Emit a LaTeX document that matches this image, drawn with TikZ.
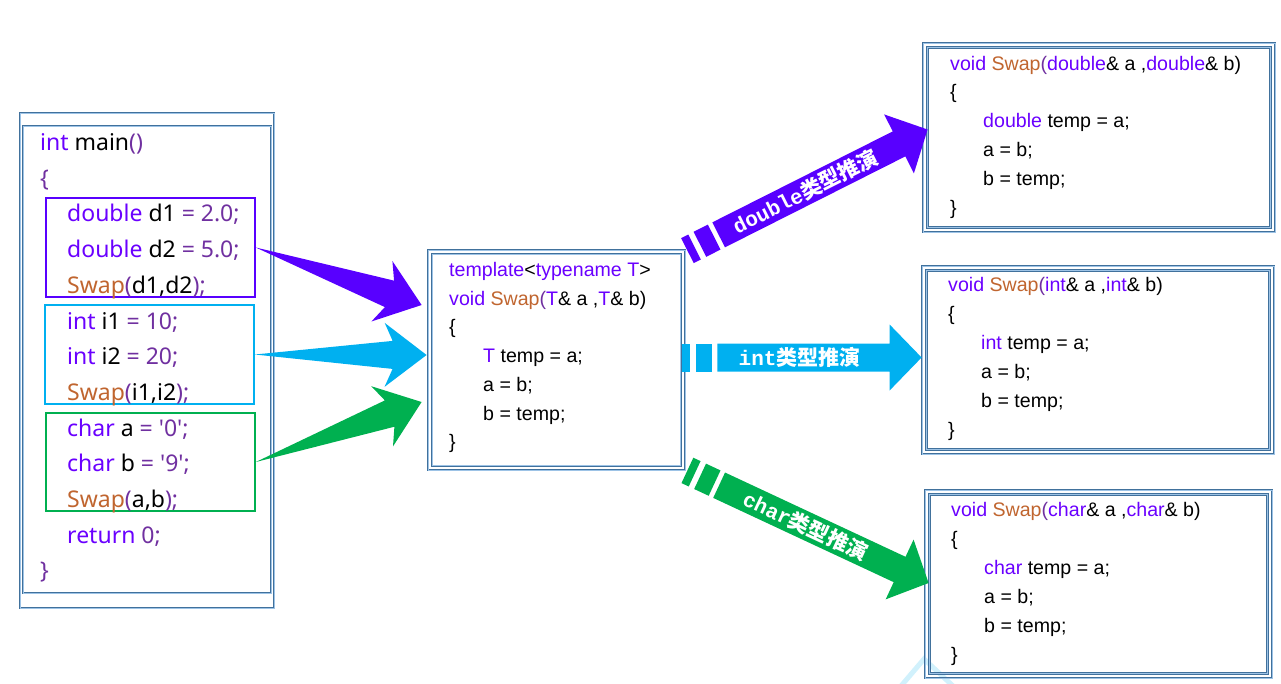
\documentclass[tikz,border=0pt]{standalone}
\usepackage{fontspec}
\setmainfont{Liberation Sans}
\newfontfamily\yahei{Noto Sans}
\newfontfamily\cjk{Noto Sans CJK SC}
\newfontfamily\lblmono{Liberation Mono}
\usetikzlibrary{calc,positioning}

\definecolor{kwc}{HTML}{6A00FF}
\definecolor{opc}{HTML}{7030A0}
\definecolor{fnc}{HTML}{C0652F}
\definecolor{boxblue}{HTML}{41719C}
\definecolor{boxlight}{HTML}{9DC3E6}
\definecolor{dblc}{HTML}{5800FF}
\definecolor{intc}{HTML}{00B0F0}
\definecolor{chrc}{HTML}{00B050}

\newcommand\kw[1]{\textcolor{kwc}{#1}}
\newcommand\op[1]{\textcolor{opc}{#1}}
\newcommand\fn[1]{\textcolor{fnc}{#1}}

% tapered arrow: colour, tail, tip
\newcommand\fatarrow[3]{%
  \fill[#1] (#2) -- ($(#3)!34pt!(#2)!14pt!90:(#3)$) -- ($(#3)!42pt!(#2)!32pt!90:(#3)$) -- (#3)
    -- ($(#3)!42pt!(#2)!32pt!-90:(#3)$) -- ($(#3)!34pt!(#2)!14pt!-90:(#3)$) -- cycle;}

% striped block arrow: colour, tail, tip, label
\newcommand\typearrow[4]{%
  \fill[#1] ($(#2)!14pt!90:(#3)$) -- ($(#2)!8pt!(#3)!14pt!90:(#3)$)
    -- ($(#2)!8pt!(#3)!14pt!-90:(#3)$) -- ($(#2)!14pt!-90:(#3)$) -- cycle;
  \fill[#1] ($(#2)!14pt!(#3)!14pt!90:(#3)$) -- ($(#2)!30pt!(#3)!14pt!90:(#3)$)
    -- ($(#2)!30pt!(#3)!14pt!-90:(#3)$) -- ($(#2)!14pt!(#3)!14pt!-90:(#3)$) -- cycle;
  \fill[#1] ($(#2)!35pt!(#3)!14pt!90:(#3)$) -- ($(#3)!32pt!(#2)!14pt!90:(#3)$)
    -- ($(#3)!32pt!(#2)!33pt!90:(#3)$) -- (#3) -- ($(#3)!32pt!(#2)!33pt!-90:(#3)$)
    -- ($(#3)!32pt!(#2)!14pt!-90:(#3)$) -- ($(#2)!35pt!(#3)!14pt!-90:(#3)$) -- cycle;
  \path (#2) -- (#3) node[lbl, sloped, pos=0.49] {#4};}

\begin{document}
\begin{tikzpicture}[x=1pt, y=-1pt,
    bline/.style={draw=boxblue, double=boxlight, line width=0.8pt, double distance=1pt},
    codebox/.style={bline, rectangle, inner sep=0pt},
    groupbox/.style={draw=#1, line width=1.6pt, rectangle, inner sep=0pt,
      minimum width=209pt, minimum height=99pt},
    mline/.style={anchor=base west, inner sep=0pt, font=\yahei\fontsize{23}{27}\selectfont},
    cline/.style={anchor=base west, inner sep=0pt, font=\fontsize{19.6}{24}\selectfont},
    lbl/.style={text=white, inner sep=0pt, font=\bfseries\fontsize{21}{25}\selectfont}]
\useasboundingbox (0,0) rectangle (1281,683);

% faint piece at the bottom
\draw[intc!18, line width=5pt] (901,686) -- (924,659) -- (953,686);

% main()
\node[codebox, minimum width=254pt, minimum height=495pt] (mainout) at (147,360.5) {};
\node[codebox, minimum width=248pt, minimum height=467pt] (mainin) at (147,359.5) {};
\node[groupbox=dblc] (gdbl) at (150.5,247.5) {};
\node[groupbox=intc] (gint) at (149.5,354.5) {};
\node[groupbox=chrc, minimum height=98pt] (gchr) at (150.5,462) {};
\foreach \k/\ind/\txt in {0/40/{\kw{int} main\op{()}}, 1/40/{\op{\{}},
    2/67/{\kw{double} d1 \op{= 2.0;}}, 3/67/{\kw{double} d2 \op{= 5.0;}},
    4/67/{\fn{Swap}\op{(}d1,d2\op{);}}, 5/67/{\kw{int} i1 \op{= 10;}},
    6/67/{\kw{int} i2 \op{= 20;}}, 7/67/{\fn{Swap}\op{(}i1,i2\op{);}},
    8/67/{\kw{char} a \op{= '0';}}, 9/67/{\kw{char} b \op{= '9';}},
    10/67/{\fn{Swap}\op{(}a,b\op{);}}, 11/67/{\kw{return} \op{0;}}, 12/40/{\op{\}}}}
  \node[mline] (m\k) at (\ind, 150.5+35.7*\k) {\txt};

% template
\node[codebox, minimum width=257pt, minimum height=220pt] (tpl) at (556.5,360) {};
\draw[bline] ([shift={(4.5,4.5)}]tpl.north west) rectangle ([shift={(-4.5,-4.5)}]tpl.south east);
\foreach \k/\ind/\txt in {0/449/{\kw{template}<\kw{typename T}>},
    1/449/{\kw{void} \fn{Swap}\op{(}\kw{T}\& a ,\kw{T}\& b)}, 2/449/{\{},
    3/483/{\kw{T} temp = a;}, 4/483/{a = b;}, 5/483/{b = temp;}, 6/449/{\}}}
  \node[cline] (t\k) at (\ind, 276.5+28.7*\k) {\txt};

% deduced functions
\node[codebox, minimum width=352pt, minimum height=189pt] (dbl) at (1099,137.5) {};
\node[codebox, minimum width=352pt, minimum height=188pt] (intb) at (1098,360) {};
\node[codebox, minimum width=347pt, minimum height=188pt] (chrb) at (1098.5,584) {};
\foreach \bx in {dbl, intb, chrb}
  \draw[bline] ([shift={(5,5)}]\bx.north west) rectangle ([shift={(-5,-5)}]\bx.south east);
\foreach \ty/\bx/\by/\nm in {double/950/70/d, int/948/291.5/i, char/951/516.5/c} {
  \node[cline] (\nm0) at (\bx,\by) {\kw{void} \fn{Swap}\op{(}\kw{\ty}\& a ,\kw{\ty}\& b)};
  \node[cline] (\nm1) at (\bx,\by+28.9) {\{};
  \node[cline] (\nm2) at (\bx+33,\by+57.8) {\kw{\ty} temp = a;};
  \node[cline] (\nm3) at (\bx+33,\by+86.7) {a = b;};
  \node[cline] (\nm4) at (\bx+33,\by+115.6) {b = temp;};
  \node[cline] (\nm5) at (\bx,\by+144.5) {\}};
}

% calls -> template
\fatarrow{dblc}{gdbl.east}{$(tpl.west)+(-6,-55)$}
\fatarrow{intc}{gint.east}{$(tpl.west)+(-1,-5)$}
\fatarrow{chrc}{gchr.east}{$(tpl.west)+(-6,42)$}

% template -> deduced
\coordinate (dt) at ($(tpl.north east)+(2,1)$);
\coordinate (dh) at ($(dbl.west)+(5,-8)$);
\coordinate (it) at ($(tpl.east)+(-3,-2.5)$);
\coordinate (ih) at ($(intb.west)+(0,-2.5)$);
\coordinate (ct) at ($(tpl.south east)+(2,0)$);
\coordinate (ch) at ($(chrb.west)+(4,-1)$);
\typearrow{dblc}{dt}{dh}{{\lblmono double}{\cjk 类型推演}}
\typearrow{intc}{it}{ih}{{\lblmono int}{\cjk 类型推演}}
\typearrow{chrc}{ct}{ch}{{\lblmono char}{\cjk 类型推演}}
\end{tikzpicture}
\end{document}
